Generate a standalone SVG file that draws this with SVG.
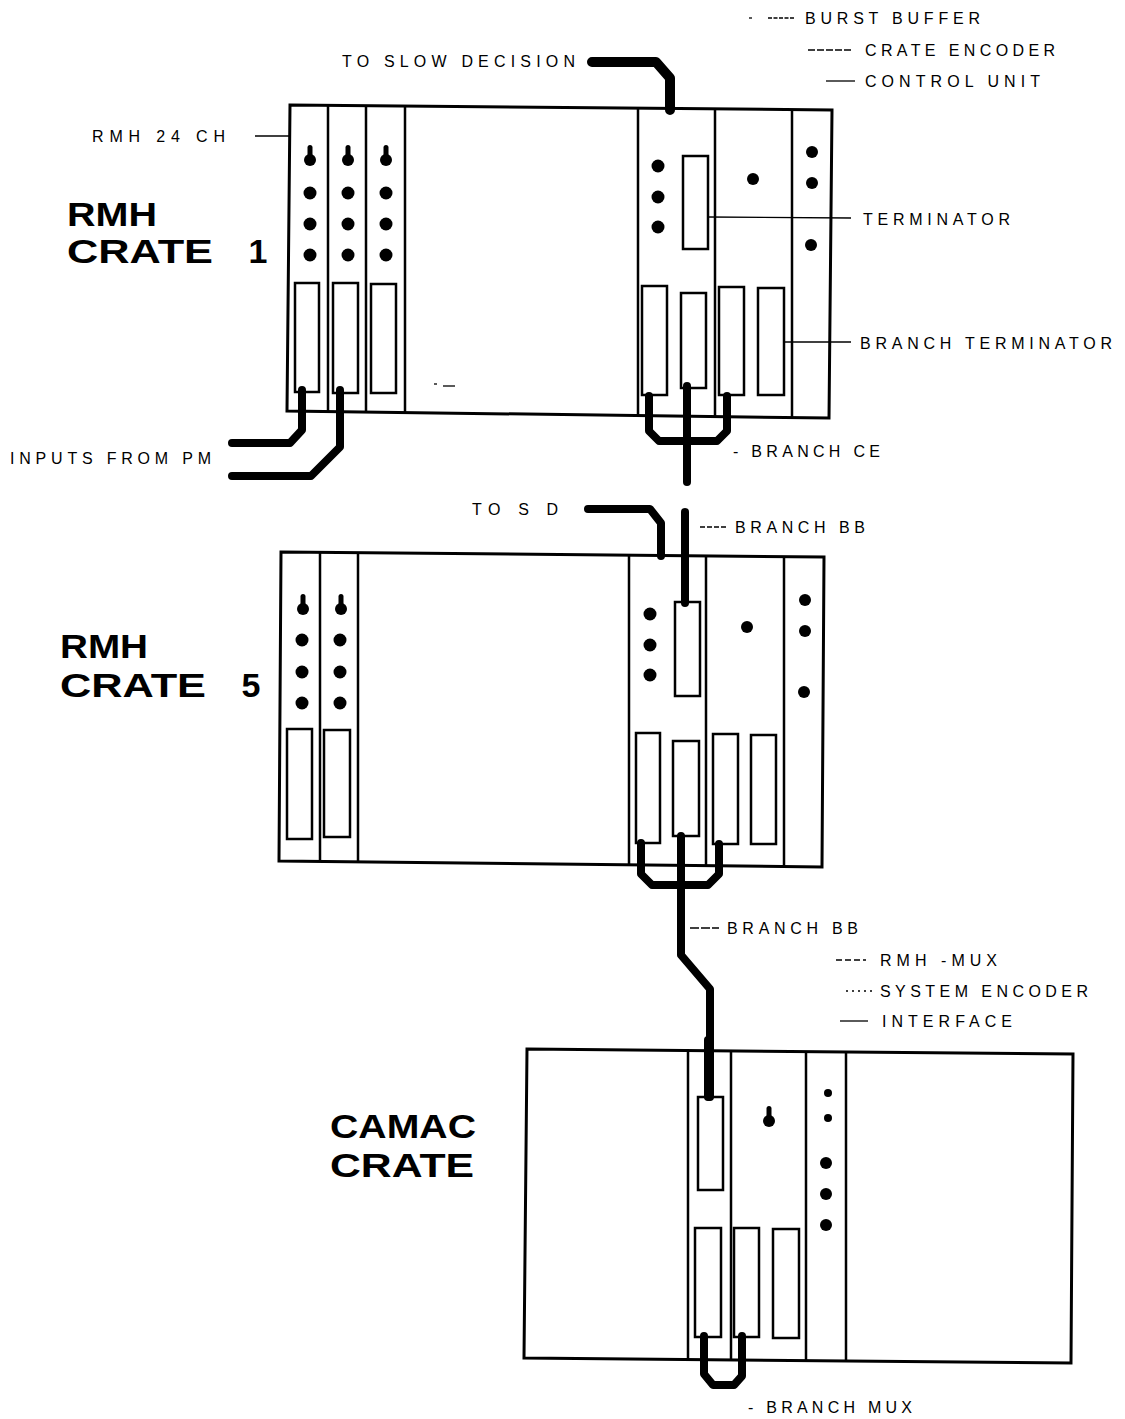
<svg xmlns="http://www.w3.org/2000/svg" width="1125" height="1419" viewBox="0 0 1125 1419">
<style>
.frame{fill:none;stroke:#000;stroke-width:3;stroke-linejoin:miter}
.div{stroke:#000;stroke-width:2.5}
.slot{fill:none;stroke:#000;stroke-width:2.5}
.cable{fill:none;stroke:#000;stroke-width:8;stroke-linecap:round;stroke-linejoin:round}
.lead{stroke:#000;stroke-width:1.3;fill:none}
.t{font-family:"Liberation Sans",Arial,sans-serif;font-size:16px;fill:#000}
.big{font-family:"Liberation Sans",Arial,sans-serif;font-size:34px;font-weight:bold;fill:#000}
</style>
<defs>
<g id="key"><rect x="-2.5" y="-15" width="5" height="13" rx="2.5"/><circle r="6"/></g>
</defs>
<rect width="1125" height="1419" fill="#fff"/>

<g id="crate1">
<polygon class="frame" points="290,105 832,110 829,418 287,411"/>
<line class="div" x1="328" y1="105.3" x2="328" y2="411.5"/>
<line class="div" x1="366" y1="105.7" x2="366" y2="412"/>
<line class="div" x1="405" y1="106.1" x2="405" y2="412.5"/>
<line class="div" x1="638" y1="108.2" x2="638" y2="415.5"/>
<line class="div" x1="715" y1="108.9" x2="715" y2="416.5"/>
<line class="div" x1="792" y1="109.6" x2="792" y2="417.5"/>
<use href="#key" x="310" y="160"/><use href="#key" x="348" y="160"/><use href="#key" x="386" y="160"/>
<circle cx="310" cy="193" r="6.5"/><circle cx="310" cy="224" r="6.5"/><circle cx="310" cy="255" r="6.5"/>
<circle cx="348" cy="193" r="6.5"/><circle cx="348" cy="224" r="6.5"/><circle cx="348" cy="255" r="6.5"/>
<circle cx="386" cy="193" r="6.5"/><circle cx="386" cy="224" r="6.5"/><circle cx="386" cy="255" r="6.5"/>
<rect class="slot" x="295" y="283" width="24" height="109"/>
<rect class="slot" x="333" y="283" width="25" height="110"/>
<rect class="slot" x="371" y="284" width="25" height="109"/>
<circle cx="658" cy="166" r="6.5"/><circle cx="658" cy="197" r="6.5"/><circle cx="658" cy="227" r="6.5"/>
<rect class="slot" x="683" y="156" width="25" height="93"/>
<circle cx="753" cy="179" r="6"/>
<circle cx="812" cy="152" r="6"/><circle cx="812" cy="183" r="6"/><circle cx="811" cy="245" r="6"/>
<rect class="slot" x="642" y="286" width="25" height="109"/>
<rect class="slot" x="681" y="293" width="25" height="95"/>
<rect class="slot" x="719" y="287" width="25" height="108"/>
<rect class="slot" x="758" y="288" width="26" height="107"/>
<line class="lead" x1="434" y1="384" x2="437" y2="384"/>
<line class="lead" x1="443" y1="386" x2="455" y2="386"/>
</g>

<g id="crate5">
<polygon class="frame" points="281,552 824,557 822,867 279,861"/>
<line class="div" x1="320" y1="552.4" x2="320" y2="861.5"/>
<line class="div" x1="358" y1="552.7" x2="358" y2="862"/>
<line class="div" x1="629" y1="555.2" x2="629" y2="865"/>
<line class="div" x1="706" y1="555.9" x2="706" y2="865.7"/>
<line class="div" x1="784" y1="556.6" x2="784" y2="866.5"/>
<use href="#key" x="303" y="609"/><use href="#key" x="341" y="609"/>
<circle cx="302" cy="640" r="6.5"/><circle cx="302" cy="672" r="6.5"/><circle cx="302" cy="703" r="6.5"/>
<circle cx="340" cy="640" r="6.5"/><circle cx="340" cy="672" r="6.5"/><circle cx="340" cy="703" r="6.5"/>
<rect class="slot" x="287" y="729" width="25" height="110"/>
<rect class="slot" x="324" y="730" width="26" height="107"/>
<circle cx="650" cy="614" r="6.5"/><circle cx="650" cy="645" r="6.5"/><circle cx="650" cy="675" r="6.5"/>
<rect class="slot" x="675" y="602" width="25" height="94"/>
<circle cx="747" cy="627" r="6"/>
<circle cx="805" cy="600" r="6"/><circle cx="805" cy="631" r="6"/><circle cx="804" cy="692" r="6"/>
<rect class="slot" x="636" y="733" width="24" height="110"/>
<rect class="slot" x="673" y="741" width="26" height="95"/>
<rect class="slot" x="713" y="734" width="25" height="110"/>
<rect class="slot" x="751" y="735" width="25" height="109"/>
</g>

<g id="camac">
<polygon class="frame" points="527,1049 1073,1054 1071,1363 524,1358"/>
<line class="div" x1="688" y1="1050.5" x2="688" y2="1359.5"/>
<line class="div" x1="731" y1="1050.9" x2="731" y2="1359.9"/>
<line class="div" x1="806" y1="1051.6" x2="806" y2="1360.6"/>
<line class="div" x1="846" y1="1051.9" x2="846" y2="1361"/>
<rect class="slot" x="698" y="1097" width="25" height="93"/>
<use href="#key" x="769" y="1121"/>
<circle cx="828" cy="1093" r="4"/><circle cx="828" cy="1118" r="4"/>
<circle cx="826" cy="1163" r="6"/><circle cx="826" cy="1194" r="6"/><circle cx="826" cy="1225" r="6"/>
<rect class="slot" x="695" y="1228" width="26" height="109"/>
<rect class="slot" x="734" y="1228" width="25" height="109"/>
<rect class="slot" x="773" y="1229" width="26" height="109"/>
</g>

<g id="connectors">
<path class="cable" style="stroke-width:10" d="M592,62 H656 L670,78 V110"/>
<path class="cable" d="M302,390 V430 L290,443 H232"/>
<path class="cable" d="M340,390 V447 L311,476 H232"/>
<path class="cable" d="M649,396 V431 L659,441 H717 L727,431 V396"/>
<path class="cable" d="M687,386 V482"/>
<path class="cable" d="M588,509 H650 L661,523 V556"/>
<path class="cable" d="M685,512 V603"/>
<path class="cable" d="M641,843 V874 L652,885 H708 L719,874 V844"/>
<path class="cable" d="M681,836 V955 L710,989 V1097"/>
<path class="cable" d="M704,1336 V1374 L713,1385 H734 L742,1376 V1336"/>
<path class="cable" d="M708,1040 V1097"/>
<line class="lead" x1="255" y1="136" x2="290" y2="136"/>
<line class="lead" x1="708" y1="217" x2="851" y2="218"/>
<line class="lead" x1="784" y1="342" x2="851" y2="342"/>
<line class="lead" x1="749" y1="18" x2="752" y2="18"/>
<line class="lead" x1="768" y1="18" x2="795" y2="18" stroke-dasharray="4,1.5"/>
<line class="lead" x1="808" y1="50" x2="852" y2="50" stroke-dasharray="7,2"/>
<line class="lead" x1="826" y1="81" x2="855" y2="81"/>
<line class="lead" x1="700" y1="527" x2="728" y2="527" stroke-dasharray="5,2"/>
<line class="lead" x1="690" y1="928" x2="719" y2="928" stroke-dasharray="9,2"/>
<line class="lead" x1="836" y1="960" x2="866" y2="960" stroke-dasharray="6,3"/>
<line class="lead" x1="846" y1="991" x2="872" y2="991" stroke-dasharray="2,4"/>
<line class="lead" x1="840" y1="1021" x2="868" y2="1021"/>
</g>

<g id="labels">
<text class="t" x="805" y="24" textLength="175" lengthAdjust="spacing">BURST BUFFER</text>
<text class="t" x="865" y="56" textLength="190" lengthAdjust="spacing">CRATE ENCODER</text>
<text class="t" x="865" y="87" textLength="175" lengthAdjust="spacing">CONTROL UNIT</text>
<text class="t" x="342" y="67" textLength="233" lengthAdjust="spacing">TO SLOW DECISION</text>
<text class="t" x="92" y="142" textLength="133" lengthAdjust="spacing">RMH 24 CH</text>
<text class="t" x="863" y="225" textLength="147" lengthAdjust="spacing">TERMINATOR</text>
<text class="t" x="860" y="349" textLength="252" lengthAdjust="spacing">BRANCH TERMINATOR</text>
<text class="t" x="10" y="464" textLength="201" lengthAdjust="spacing">INPUTS FROM PM</text>
<text class="t" x="733" y="457" textLength="147" lengthAdjust="spacing">- BRANCH CE</text>
<text class="t" x="472" y="515" textLength="86" lengthAdjust="spacing">TO S D</text>
<text class="t" x="735" y="533" textLength="130" lengthAdjust="spacing">BRANCH BB</text>
<text class="t" x="727" y="934" textLength="131" lengthAdjust="spacing">BRANCH BB</text>
<text class="t" x="880" y="966" textLength="117" lengthAdjust="spacing">RMH -MUX</text>
<text class="t" x="880" y="997" textLength="208" lengthAdjust="spacing">SYSTEM ENCODER</text>
<text class="t" x="882" y="1027" textLength="130" lengthAdjust="spacing">INTERFACE</text>
<text class="t" x="748" y="1413" textLength="164" lengthAdjust="spacing">- BRANCH MUX</text>
<text class="big" x="67" y="226" textLength="90" lengthAdjust="spacingAndGlyphs">RMH</text>
<text class="big" y="263"><tspan x="67" textLength="146" lengthAdjust="spacingAndGlyphs">CRATE</tspan><tspan x="239"> 1</tspan></text>
<text class="big" x="60" y="658" textLength="88" lengthAdjust="spacingAndGlyphs">RMH</text>
<text class="big" y="697"><tspan x="60" textLength="146" lengthAdjust="spacingAndGlyphs">CRATE</tspan><tspan x="232"> 5</tspan></text>
<text class="big" x="330" y="1138" textLength="146" lengthAdjust="spacingAndGlyphs">CAMAC</text>
<text class="big" x="330" y="1177" textLength="144" lengthAdjust="spacingAndGlyphs">CRATE</text>
</g>
</svg>
